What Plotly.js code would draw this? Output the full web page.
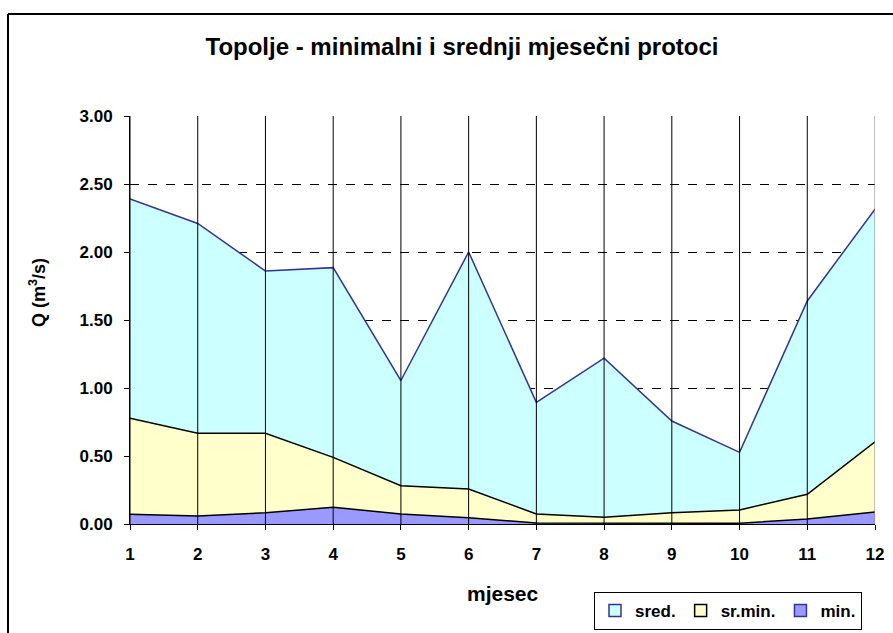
<!DOCTYPE html>
<html>
<head>
<meta charset="utf-8">
<script src="https://cdn.plot.ly/plotly-3.0.1.min.js"></script>
<style>
html,body{margin:0;padding:0;background:#fff;overflow:hidden;}
#chart{width:893px;height:633px;overflow:hidden;}
</style>
</head>
<body>
<div id="chart"></div>
<script>
const months = [1,2,3,4,5,6,7,8,9,10,11,12];
const sred   = [2.39,2.21,1.86,1.885,1.055,2.00,0.895,1.22,0.757,0.527,1.64,2.315];
const srMin  = [0.777,0.667,0.667,0.49,0.282,0.257,0.074,0.049,0.083,0.103,0.218,0.605];
const minQ   = [0.071,0.059,0.083,0.123,0.074,0.046,0.007,0.005,0.006,0.006,0.037,0.088];
const yTicks = [0,0.5,1,1.5,2,2.5,3];
const yTickText = ["0.00","0.50","1.00","1.50","2.00","2.50","3.00"];
const seriesNames = ["sred.", "sr.min.", "min."];
const fillColors = ["#CCFFFF", "#FFFFCC", "#9999FF"];
const lineColors = ["#333399", "#000000", "#000000"];
const legendBorders = ["#333399", "#000000", "#333399"];

const FONT = "Liberation Sans, Arial, sans-serif";

const seriesData = [sred, srMin, minQ];
const traces = seriesData.map((ys, i) => ({
  x: months, y: ys, name: seriesNames[i], type: "scatter", mode: "lines",
  fill: "tozeroy", fillcolor: fillColors[i],
  line: {color: lineColors[i], width: 1.5}, showlegend: false
}));
// legend-only entries with square swatches
seriesNames.forEach((n, i) => traces.push({
  x: [null], y: [null], name: n, type: "scatter", mode: "markers",
  marker: {symbol: "square", size: 12, color: fillColors[i],
           line: {color: legendBorders[i], width: 1.5}},
  showlegend: true
}));

const shapes = months.map((m, i) => ({
  type: "line", xref: "x", yref: "paper", x0: m, x1: m, y0: 0, y1: 1,
  layer: "above",
  line: {color: i === months.length - 1 ? "#808080" : "#000000", width: 1}
}));
// outer chart border (left and top edges visible in the frame)
const bx0 = (8 - 130) / 745, bx1 = (893 - 130) / 745;
const by0 = (524 - 633) / 408, by1 = (524 - 14) / 408;
shapes.push({type: "line", xref: "paper", yref: "paper", x0: bx0, x1: bx0, y0: by0, y1: by1,
  line: {color: "#000000", width: 2}, layer: "below"});
shapes.push({type: "line", xref: "paper", yref: "paper", x0: bx0, x1: bx1, y0: by1, y1: by1,
  line: {color: "#000000", width: 2}, layer: "below"});

const layout = {
  width: 893, height: 633,
  margin: {l: 130, r: 18, t: 116, b: 109, autoexpand: false},
  paper_bgcolor: "#ffffff", plot_bgcolor: "#ffffff",
  font: {family: FONT, color: "#000000"},
  showlegend: true,
  title: {text: "Topolje - minimalni i srednji mjesečni protoci",
          font: {family: FONT, size: 24, weight: "bold", color: "#000"},
          x: 462 / 893, xref: "container", xanchor: "center",
          y: 1 - 47 / 633, yref: "container", yanchor: "middle"},
  xaxis: {range: [1, 12], tickvals: months, ticktext: months.map(String),
          showgrid: false, zeroline: false, showline: true, linecolor: "#000", linewidth: 1,
          ticks: "outside", ticklen: 5, tickcolor: "#000", automargin: false,
          tickfont: {family: FONT, size: 17, weight: "bold"}, ticklabelstandoff: 10,
          fixedrange: true},
  yaxis: {range: [0, 3], tickvals: yTicks, ticktext: yTickText,
          showgrid: true, gridcolor: "#000000", griddash: "dash", gridwidth: 1,
          zeroline: false, showline: true, linecolor: "#000", linewidth: 1,
          ticks: "outside", ticklen: 5, tickcolor: "#000", automargin: false,
          tickfont: {family: FONT, size: 17, weight: "bold"}, ticklabelstandoff: 8,
          fixedrange: true},
  annotations: [
    {text: "Q (m<sup>3</sup>/s)", xref: "paper", yref: "paper",
     x: (37 - 130) / 745, y: (524 - 293) / 408, showarrow: false, textangle: -90,
     xanchor: "center", yanchor: "middle",
     font: {family: FONT, size: 18, weight: "bold"}},
    {text: "mjesec", xref: "paper", yref: "paper",
     x: (503 - 130) / 745, y: (524 - 593) / 408, showarrow: false,
     xanchor: "center", yanchor: "middle",
     font: {family: FONT, size: 21, weight: "bold"}}
  ],
  legend: {orientation: "h", x: (594 - 130) / 745, y: (524 - 592) / 408,
           xanchor: "left", yanchor: "top", maxheight: 200,
           bordercolor: "#000", borderwidth: 1, bgcolor: "#fff",
           font: {family: FONT, size: 17, weight: "bold"},
           traceorder: "normal", itemwidth: 30, tracegroupgap: 0},
  shapes: shapes
};

Plotly.newPlot("chart", traces, layout, {displayModeBar: false, staticPlot: true});
</script>
</body>
</html>
